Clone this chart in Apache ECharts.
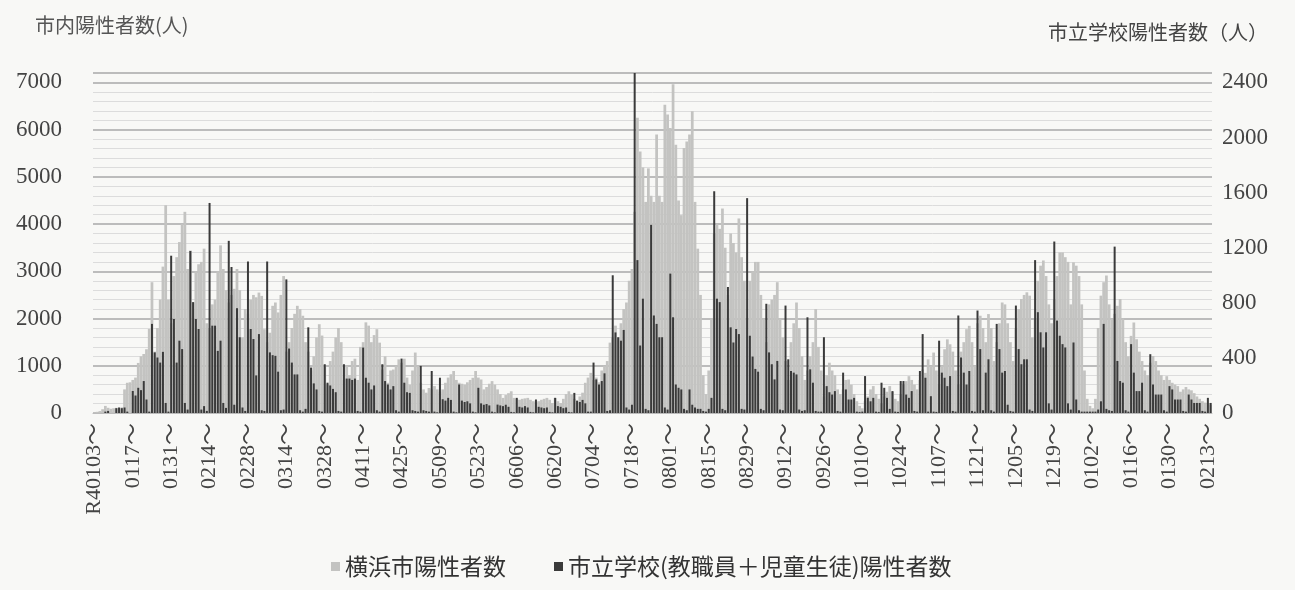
<!DOCTYPE html>
<html>
<head>
<meta charset="utf-8">
<script src="https://cdn.jsdelivr.net/npm/echarts@6/dist/echarts.min.js"></script>
<style>
  html, body { margin: 0; padding: 0; background: #f8f8f6; }
  #chart { width: 1295px; height: 590px; }
</style>
</head>
<body>
<div id="chart"></div>
<script>
// 横浜市陽性者数 (日別, R4.1.3 ～)
var cityCases = [
  15,25,40,80,150,110,90,
  100,110,100,120,500,640,650,
  700,750,1060,1200,1250,1350,1780,
  2770,1300,1800,2400,3100,4400,2400,
  1900,2900,3300,3620,4000,4260,3050,
  3440,2340,3000,3150,3200,3480,1900,
  1800,2300,2400,3000,3550,3050,2600,
  2340,2500,2630,3050,2600,1600,2200,
  2100,2400,2500,2450,2550,2480,1775,
  1500,1700,2270,2340,2130,2500,2900,
  1300,1500,1800,2100,2270,2200,2060,
  1500,1300,900,1200,1600,1880,1640,
  1000,600,1100,1300,1600,1800,1500,
  700,1000,800,1100,1150,700,1400,
  1500,1920,1850,1500,1650,1775,1490,
  920,1200,640,900,920,1000,1136,
  1065,1150,750,600,900,1280,1000,
  640,500,430,530,500,570,500,
  450,500,640,750,820,890,700,
  640,620,600,650,700,745,890,
  750,710,500,550,620,675,600,
  500,400,320,380,420,460,320,
  300,280,300,310,320,280,250,
  230,250,280,300,320,280,210,
  320,250,210,300,400,460,390,
  300,210,350,430,640,750,850,
  700,750,650,900,1000,1100,1490,
  1600,1850,1600,1900,2200,2340,2800,
  3050,4260,6250,5540,5200,4470,5180,
  4600,4470,5900,4600,4470,6530,6320,
  6035,6960,5680,4500,4190,5610,5750,
  5900,6390,4470,3480,2500,800,400,
  900,2000,3800,4000,3900,4330,3500,
  2500,3800,3600,3400,4120,3300,2800,
  2000,2800,3000,3200,3200,2500,2000,
  1500,2300,2400,2500,2770,2000,1600,
  1100,700,1500,1900,2340,1800,1200,
  700,900,1200,1500,2200,1400,900,
  350,800,1065,900,800,500,400,
  500,700,710,600,400,250,150,
  100,250,350,500,570,400,300,
  200,350,450,570,450,300,250,
  400,600,675,780,700,600,500,
  700,920,850,1136,1000,1280,900,
  600,1000,1350,1560,1455,1300,900,
  600,1300,1500,1775,1846,1500,1000,
  1900,2060,1800,1500,2095,1800,1100,
  1500,1900,2340,2300,1900,1500,1100,
  1800,2200,2414,2500,2556,2485,1600,
  2000,2800,3120,3230,2900,2300,1900,
  2400,2900,3400,3400,3300,3200,2300,
  3190,3120,2900,2300,900,300,150,
  100,300,1800,2485,2770,2911,2300,
  1988,2100,2270,2414,2000,1500,1200,
  1633,1917,1562,1300,1100,900,800,
  1065,1207,1100,900,800,700,780,
  700,640,600,570,450,500,550,
  500,480,420,350,300,250,220,
  210,180
];

// 市立学校(教職員＋児童生徒)陽性者数
var schoolCases = [
  0,0,0,0,10,15,0,
  0,35,40,35,40,10,0,
  160,127,183,166,232,98,10,
  647,440,403,366,444,73,10,
  1142,683,366,525,464,73,25,
  1176,805,683,610,25,50,15,
  1525,634,634,451,525,73,37,
  1250,1060,60,761,550,40,15,
  1100,610,537,273,573,20,15,
  1100,440,420,415,300,20,25,
  970,468,366,280,280,20,10,
  30,622,330,215,171,15,10,
  354,220,200,175,151,15,10,
  354,250,250,240,250,15,10,
  475,256,220,171,200,20,10,
  354,232,207,171,195,20,10,
  395,220,151,146,20,15,10,
  342,20,15,10,305,10,5,
  256,100,90,110,95,10,5,
  207,90,80,85,70,10,5,
  183,70,60,65,55,10,5,
  61,55,50,60,45,8,5,
  110,45,40,50,40,8,5,
  98,45,40,35,40,8,5,
  110,50,45,35,40,8,5,
  146,90,80,95,70,10,10,
  366,244,207,232,288,15,20,
  1000,585,550,525,603,40,25,
  60,2470,1110,490,830,30,20,
  1366,708,647,550,550,40,25,
  1012,695,207,183,171,30,20,
  171,60,40,30,30,15,10,
  30,110,1610,830,805,30,20,
  915,622,512,610,573,30,25,
  1560,561,410,320,300,30,20,
  793,440,354,244,378,25,20,
  780,390,305,293,280,25,15,
  20,695,317,220,15,10,10,
  550,195,151,134,159,15,10,
  293,171,98,98,110,10,8,
  10,268,110,85,110,10,8,
  220,183,110,30,159,10,8,
  232,232,134,110,159,15,10,
  305,573,256,10,122,10,8,
  525,293,256,195,268,15,10,
  708,403,293,207,305,15,10,
  744,464,20,293,390,20,10,
  647,464,293,305,60,15,10,
  780,464,354,390,390,25,15,
  1110,732,586,476,586,70,25,
  1245,671,561,500,476,70,25,
  512,98,20,10,10,10,10,
  10,10,25,85,647,30,20,
  15,1208,378,232,220,20,10,
  500,293,159,159,220,20,10,
  427,207,134,134,134,20,10,
  195,171,98,98,98,15,10,
  134,98,73,73,73,15,10,
  110,73
];

// 日付カテゴリ (R4.1.3 から日ごと)
var startDate = new Date(2022, 0, 3);
var dates = [];
for (var i = 0; i < cityCases.length; i++) {
  var dt = new Date(startDate.getTime());
  dt.setDate(startDate.getDate() + i);
  var mm = ('0' + (dt.getMonth() + 1)).slice(-2);
  var dd = ('0' + dt.getDate()).slice(-2);
  dates.push(i === 0 ? 'R4' + mm + dd + '～' : mm + dd + '～');
}

var leftTicks = [0, 1000, 2000, 3000, 4000, 5000, 6000, 7000];
var rightTicks = [0, 400, 800, 1200, 1600, 2000, 2400];
var leftMax = 7200;
var rightMax = leftMax * 2400 / 7000;

var serif = "'Liberation Serif', 'DejaVu Serif', 'Noto Sans CJK JP', serif";
var sans = "'Noto Sans CJK JP', sans-serif";

var chart = echarts.init(document.getElementById('chart'));
chart.setOption({
  backgroundColor: '#f8f8f6',
  animation: false,
  grid: { left: 93, right: 83, top: 73, bottom: 177 },
  graphic: [
    { type: 'text', left: 35, top: 15, style: { text: '市内陽性者数(人)', font: '20px ' + sans, fill: '#555' } },
    { type: 'text', right: 27, top: 22, style: { text: '市立学校陽性者数（人）', font: '20px ' + sans, fill: '#444' } }
  ],
  legend: {
    bottom: 7,
    left: 326,
    itemWidth: 9,
    itemHeight: 9,
    itemGap: 48,
    icon: 'rect',
    textStyle: { fontFamily: sans, fontSize: 23, color: '#333' },
    data: ['横浜市陽性者数', '市立学校(教職員＋児童生徒)陽性者数']
  },
  xAxis: [
    {
      type: 'category',
      data: dates,
      axisLine: { show: true, lineStyle: { color: '#bbb' } },
      axisTick: { show: false },
      axisLabel: {
        interval: 13,
        rotate: 90,
        margin: 10,
        fontFamily: serif,
        fontSize: 22,
        color: '#444'
      }
    },
    {
      type: 'category',
      data: dates,
      show: false
    }
  ],
  yAxis: [
    {
      type: 'value',
      min: 0,
      max: leftMax,
      interval: 1000,
      axisLine: { show: false },
      axisTick: { show: false },
      axisLabel: {
        showMaxLabel: false,
        margin: 31,
        fontFamily: serif,
        fontSize: 23,
        color: '#444',
        formatter: function (v) { return leftTicks.indexOf(v) >= 0 ? v : ''; }
      },
      splitLine: { lineStyle: { color: '#a8a8a8', width: 1.5 } },
      minorTick: { show: false, splitNumber: 5 },
      minorSplitLine: { show: true, lineStyle: { color: '#dcdcdc', width: 1 } }
    },
    {
      type: 'value',
      min: 0,
      max: rightMax,
      interval: 400,
      axisLine: { show: false },
      axisTick: { show: false },
      splitLine: { show: false },
      axisLabel: {
        showMaxLabel: false,
        margin: 10,
        fontFamily: serif,
        fontSize: 23,
        color: '#444',
        formatter: function (v) { return rightTicks.indexOf(v) >= 0 ? v : ''; }
      }
    }
  ],
  series: [
    {
      name: '横浜市陽性者数',
      type: 'bar',
      xAxisIndex: 0,
      yAxisIndex: 0,
      barCategoryGap: '0%',
      itemStyle: { color: '#c3c3c1' },
      data: cityCases
    },
    {
      name: '市立学校(教職員＋児童生徒)陽性者数',
      type: 'bar',
      xAxisIndex: 1,
      yAxisIndex: 1,
      barWidth: 2,
      itemStyle: { color: '#3a3a3a' },
      data: schoolCases
    }
  ]
});
</script>
</body>
</html>
